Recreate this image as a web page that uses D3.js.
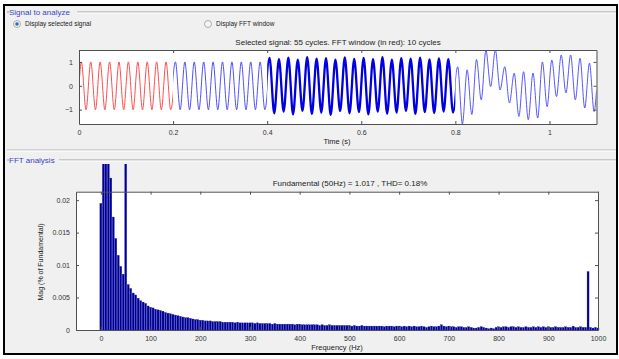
<!DOCTYPE html>
<html>
<head>
<meta charset="utf-8">
<script src="https://cdn.jsdelivr.net/npm/d3@7"></script>
<style>
  body { margin: 0; background: #fff; }
  svg { display: block; font-family: "Liberation Sans", Arial, sans-serif; }
</style>
</head>
<body>
<div id="chart"></div>
<script>
// ---- signal (one peak + one trough per 50 Hz cycle, 55 cycles) ----
const sigPeaks = [
  1, 1, 1, 1, 1, 1, 1, 1, 1, 1,
  1, 1, 1, 1, 1, 1, 1, 1, 1, 1,
  1.17, 1.12, 1.18, 1.1, 1.2, 1.14, 1.16, 1.1, 1.19, 1.13,
  1.17, 1.12, 1.2, 1.1, 1.16, 1.14, 1.18, 1.11, 1.15, 1.12,
  0.8, 0.67, 1.1, 1.48, 1.5, 0.8, 0.53, 0.59, 0.53, 1.0,
  1.08, 1.29, 1.29, 1.15, 0.95
];
const sigTroughs = [
  -1, -1, -1, -1, -1, -1, -1, -1, -1, -1,
  -1, -1, -1, -1, -1, -1, -1, -1, -1, -1,
  -1.15, -1.08, -1.2, -1.05, -1.18, -1.12, -1.22, -1.06, -1.15, -1.1,
  -1.2, -1.08, -1.17, -1.12, -1.05, -1.18, -1.1, -1.14, -1.08, -1.12,
  -1.6, -1.2, -0.59, -0.03, -0.17, -0.72, -1.28, -1.42, -1.35, -0.87,
  -0.45, -0.3, -0.59, -0.93, -1.08
];
const sigStart = 0;
const sigEnd = -0.2;
const fundFreq = 50;
const segStart = [0, 0.2, 0.4, 0.8];
const segEnd = [0.2, 0.4, 0.8, 1.1];
const timeTicks = [0, 0.2, 0.4, 0.6, 0.8, 1];
const sigTicks = [-1, 0, 1];

// ---- FFT magnitudes, 0..1000 Hz in 5 Hz steps ----
const fftStep = 5;
const fftMag = [
  0.0195, 0.06, 0.05, 0.04, 0.0234, 0.0174, 0.0141, 0.0115, 0.0098, 0.0086,
  100, 0.0070, 0.0064, 0.0057, 0.0054, 0.0049, 0.0045, 0.0043, 0.0041, 0.0037,
  0.0035, 0.0034, 0.0032, 0.0031, 0.0030, 0.0029, 0.0027, 0.0026, 0.0025, 0.0024,
  0.0023, 0.0022, 0.0021, 0.0020, 0.0019, 0.0019, 0.0018, 0.0017, 0.0016, 0.0016,
  0.0015, 0.0015, 0.0014, 0.0014, 0.0014, 0.0013, 0.0013, 0.0013, 0.0013, 0.0012,
  0.0012, 0.0012, 0.0012, 0.0012, 0.0011, 0.0012, 0.0011, 0.0011, 0.0011, 0.0011,
  0.0011, 0.0011, 0.0010, 0.0011, 0.0010, 0.0010, 0.0010, 0.0010, 0.0010, 0.0009,
  0.0010, 0.0009, 0.0009, 0.0009, 0.0009, 0.0009, 0.0009, 0.0009, 0.0008, 0.0009,
  0.0009, 0.0008, 0.0008, 0.0008, 0.0008, 0.0008, 0.0008, 0.0008, 0.0007, 0.0008,
  0.0007, 0.0007, 0.0008, 0.0007, 0.0007, 0.0007, 0.0007, 0.0007, 0.0007, 0.0007,
  0.0007, 0.0006, 0.0007, 0.0006, 0.0006, 0.0007, 0.0006, 0.0006, 0.0006, 0.0006,
  0.0006, 0.0006, 0.0006, 0.0006, 0.0005, 0.0006, 0.0006, 0.0006, 0.0005, 0.0006,
  0.0006, 0.0005, 0.0006, 0.0005, 0.0006, 0.0005, 0.0006, 0.0005, 0.0005, 0.0006,
  0.0005, 0.0004, 0.0005, 0.0006, 0.0005, 0.0005, 0.0006, 0.0008, 0.0006, 0.0005,
  0.0006, 0.0005, 0.0005, 0.0004, 0.0005, 0.0005, 0.0004, 0.0004, 0.0005, 0.0004,
  0.0003, 0.0003, 0.0004, 0.0005, 0.0004, 0.0003, 0.0002, 0.0003, 0.0002, 0.0004,
  0.0005, 0.0004, 0.0005, 0.0005, 0.0004, 0.0005, 0.0005, 0.0004, 0.0005, 0.0004,
  0.0004, 0.0005, 0.0004, 0.0004, 0.0005, 0.0004, 0.0005, 0.0004, 0.0005, 0.0004,
  0.0005, 0.0004, 0.0004, 0.0005, 0.0004, 0.0004, 0.0004, 0.0005, 0.0004, 0.0004,
  0.0006, 0.0004, 0.0004, 0.0005, 0.0004, 0.0004, 0.0090, 0.0004, 0.0003, 0.0004,
  0.0003
];
const freqTicks = [0, 100, 200, 300, 400, 500, 600, 700, 800, 900, 1000];
const magTicks = [0, 0.005, 0.01, 0.015, 0.02];
const magTickLabels = ["0", "0.005", "0.01", "0.015", "0.02"];

const W = 619, H = 359;
const svg = d3.select("#chart").append("svg")
  .attr("width", W).attr("height", H)
  .attr("viewBox", [0, 0, W, H]);

// figure background + black frame
svg.append("rect").attr("x", 4).attr("y", 5).attr("width", 613).attr("height", 349)
  .attr("fill", "#f0f0f0").attr("stroke", "#000").attr("stroke-width", 2);

// etched panel borders
function panel(y, label, w) {
  svg.append("line").attr("x1", 7).attr("x2", 9).attr("y1", y).attr("y2", y)
    .attr("stroke", "#a0a0a0");
  svg.append("line").attr("x1", 9 + w).attr("x2", 616).attr("y1", y).attr("y2", y)
    .attr("stroke", "#a0a0a0");
  svg.append("line").attr("x1", 9 + w).attr("x2", 616).attr("y1", y + 1).attr("y2", y + 1)
    .attr("stroke", "#fff");
  svg.append("text").attr("x", 9).attr("y", y + 2.6).text(label)
    .attr("font-size", 8).attr("fill", "#3b44c4");
}
panel(12, "Signal to analyze", 68);
svg.append("line").attr("x1", 7).attr("x2", 616).attr("y1", 150).attr("y2", 150).attr("stroke", "#b4b4b4");
svg.append("line").attr("x1", 7).attr("x2", 616).attr("y1", 151).attr("y2", 151).attr("stroke", "#fff");
panel(160, "FFT analysis", 50);

// radio buttons
const radios = [
  { x: 17, label: "Display selected signal", on: true },
  { x: 208, label: "Display FFT window", on: false }
];
radios.forEach(r => {
  svg.append("circle").attr("cx", r.x).attr("cy", 24).attr("r", 3.5)
    .attr("fill", "#f4f4f4").attr("stroke", "#9a9a9a").attr("stroke-width", 0.8);
  if (r.on) svg.append("circle").attr("cx", r.x).attr("cy", 24).attr("r", 1.8).attr("fill", "#2f6fb0");
  svg.append("text").attr("x", r.x + 8).attr("y", 26.3).text(r.label)
    .attr("font-size", 6.5).attr("fill", "#222");
});

// ---------- time signal axes ----------
const xT = d3.scaleLinear().domain([0, 1.1]).range([79, 596.5]);
const yT = d3.scaleLinear().domain([-1.6, 1.5]).range([124, 50]);

svg.append("rect").attr("x", xT(0)).attr("y", yT(1.5))
  .attr("width", xT(1.1) - xT(0)).attr("height", yT(-1.6) - yT(1.5)).attr("fill", "#fff");

const sigPts = [[0, sigStart]];
sigPeaks.forEach((p, k) => {
  sigPts.push([(k + 0.25) / fundFreq, p]);
  sigPts.push([(k + 0.75) / fundFreq, sigTroughs[k]]);
});
sigPts.push([1.1, sigEnd]);

const sigLine = d3.line().curve(d3.curveMonotoneX)
  .x(d => xT(d[0])).y(d => yT(d[1]));
const segStyle = [
  { color: "#ff3a3a", w: 0.9 },
  { color: "#3c3cff", w: 0.9 },
  { color: "#0000e0", w: 2.3 },
  { color: "#4444ff", w: 0.9 }
];
const defs = svg.append("defs");
segStart.forEach((s, i) => {
  defs.append("clipPath").attr("id", "seg" + i).append("rect")
    .attr("x", xT(s)).attr("y", yT(1.5))
    .attr("width", xT(segEnd[i]) - xT(s)).attr("height", yT(-1.6) - yT(1.5));
  const pts = sigPts.filter(d => d[0] >= s - 0.011 && d[0] <= segEnd[i] + 0.011);
  svg.append("path").attr("d", sigLine(pts))
    .attr("fill", "none").attr("stroke", segStyle[i].color)
    .attr("stroke-width", segStyle[i].w).attr("stroke-linejoin", "round")
    .attr("clip-path", `url(#seg${i})`);
});

function box(x, y, fmtX, fmtY, tvX, tvY) {
  const x0 = x.range()[0], x1 = x.range()[1];
  const y0 = y.range()[0], y1 = y.range()[1];
  const gB = svg.append("g").attr("transform", `translate(0,${y0})`)
    .call(d3.axisBottom(x).tickValues(tvX).tickFormat(fmtX).tickSizeInner(-3).tickSizeOuter(0).tickPadding(6));
  const gT = svg.append("g").attr("transform", `translate(0,${y1})`)
    .call(d3.axisTop(x).tickValues(tvX).tickFormat("").tickSizeInner(-3).tickSizeOuter(0));
  const gL = svg.append("g").attr("transform", `translate(${x0},0)`)
    .call(d3.axisLeft(y).tickValues(tvY).tickFormat(fmtY).tickSizeInner(-3).tickSizeOuter(0).tickPadding(6));
  const gR = svg.append("g").attr("transform", `translate(${x1},0)`)
    .call(d3.axisRight(y).tickValues(tvY).tickFormat("").tickSizeInner(-3).tickSizeOuter(0));
  [gB, gT, gL, gR].forEach(g => {
    g.attr("color", "#505050").attr("font-size", 7)
      .attr("font-family", "Liberation Sans, Arial, sans-serif");
    g.selectAll("text").attr("fill", "#333");
  });
}
box(xT, yT, d3.format("~g"), d3.format("~g"), timeTicks, sigTicks);

svg.append("text").attr("x", 338).attr("y", 44.5).attr("text-anchor", "middle")
  .attr("font-size", 8).attr("fill", "#222")
  .text("Selected signal: 55 cycles. FFT window (in red): 10 cycles");
svg.append("text").attr("x", 337).attr("y", 143.5).attr("text-anchor", "middle")
  .attr("font-size", 7.5).attr("fill", "#222").text("Time (s)");

// ---------- FFT axes ----------
const xF = d3.scaleLinear().domain([-50, 1000]).range([76, 598]);
const yF = d3.scaleLinear().domain([0, 0.0213]).range([330, 191.7]);

svg.append("rect").attr("x", xF(-50)).attr("y", yF(0.0213))
  .attr("width", xF(1000) - xF(-50)).attr("height", yF(0) - yF(0.0213)).attr("fill", "#fff");

defs.append("clipPath").attr("id", "fftclip").append("rect")
  .attr("x", 0).attr("y", 164).attr("width", W).attr("height", 200);

svg.append("g").attr("clip-path", "url(#fftclip)")
  .selectAll("rect").data(fftMag).join("rect")
  .attr("x", (d, i) => xF(i * fftStep - 2))
  .attr("width", xF(4) - xF(0))
  .attr("y", d => Math.max(yF(d), 150))
  .attr("height", d => yF(0) - Math.max(yF(d), 150))
  .attr("fill", "#000090")
  .attr("stroke", "#2020b8").attr("stroke-width", 0.3);

box(xF, yF, d3.format("~g"), (d, i) => magTickLabels[i], freqTicks, magTicks);

svg.append("text").attr("x", 350).attr("y", 185.5).attr("text-anchor", "middle")
  .attr("font-size", 8).attr("fill", "#222")
  .text("Fundamental (50Hz) = 1.017 , THD= 0.18%");
svg.append("text").attr("x", 337).attr("y", 349.5).attr("text-anchor", "middle")
  .attr("font-size", 7.5).attr("fill", "#222").text("Frequency (Hz)");
svg.append("text").attr("transform", "translate(43,262) rotate(-90)")
  .attr("text-anchor", "middle").attr("font-size", 7).attr("fill", "#222")
  .text("Mag (% of Fundamental)");
</script>
</body>
</html>
